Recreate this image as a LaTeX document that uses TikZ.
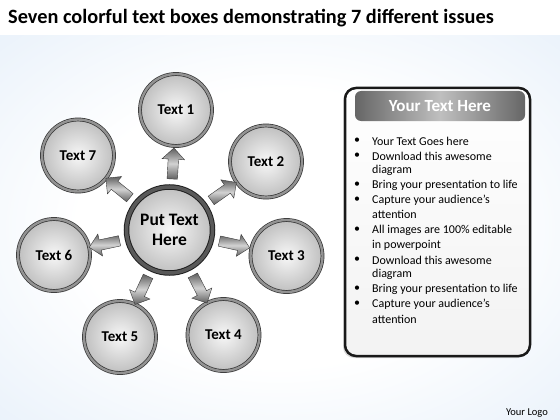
\documentclass[tikz,border=0pt]{standalone}
\usepackage{fontspec}
\setmainfont{Carlito}
\usetikzlibrary{calc,shapes.arrows,shadows}
\definecolor{bgblue}{RGB}{218,232,247}
\pgfdeclareradialshading{bgshade}{\pgfpoint{0bp}{0bp}}{color(0bp)=(white); color(18bp)=(white); color(50bp)=(bgblue); color(75bp)=(bgblue)}
\begin{document}
\begin{tikzpicture}[x=1pt,y=-1pt,
  bub/.style={circle, inner sep=0, minimum size=72pt, draw=gray!40!black, line width=0.7pt,
    double=gray!85, double distance=2.4pt, inner color=gray!6, outer color=gray!50,
    drop shadow={opacity=0.2, shadow xshift=1pt, shadow yshift=-2pt},
    font=\bfseries\fontsize{15}{17}\selectfont},
  hub/.style={bub, minimum size=86pt, double=gray!70!black, double distance=3.5pt, draw=gray!25!black, line width=1pt,
    font=\bfseries\fontsize{17.5}{20}\selectfont, align=center},
  arr/.style={single arrow, inner xsep=0pt, inner ysep=5pt, minimum height=31pt, minimum width=22pt,
    single arrow head extend=6pt, single arrow head indent=0pt, draw=gray!45!black, line width=0.4pt,
    top color=gray!75!black, bottom color=gray!75!black, middle color=gray!35},
  txt/.style={anchor=west, font=\fontsize{12}{14}\selectfont, inner sep=0pt},
  bul/.style={font=\fontsize{12}{14}\selectfont, inner sep=0pt}
]
\useasboundingbox (0,0) rectangle (560,420);
\fill[white] (0,0) rectangle (560,420);
\shade[shading=bgshade] (0,36) rectangle (560,420);

\node[anchor=west, font=\bfseries\fontsize{20.3}{24}\selectfont, inner sep=0pt] (title) at (8,18)
  {Seven colorful text boxes demonstrating 7 different issues};

\node[hub] (c) at (169.5,230) {Put Text\\Here};
\node[bub] (t1) at (176,110) {Text 1};
\node[bub] (t2) at (266,161.5) {Text 2};
\node[bub] (t3) at (286.5,256) {Text 3};
\node[bub] (t4) at (223.5,335) {Text 4};
\node[bub] (t5) at (120,337) {Text 5};
\node[bub] (t6) at (54,255) {Text 6};
\node[bub] (t7) at (78,155.5) {Text 7};

\foreach \i in {1,...,7}{
  \path let \p1=($(t\i)-(c)$), \n1={atan2(\y1,\x1)} in
    node[arr, rotate=\n1] (a\i) at ($(c)!64pt!(t\i)$) {};
}

\node[rounded corners=11pt, line width=2.5pt, draw=gray!20!black, top color=white, bottom color=gray!10,
  minimum width=185pt, minimum height=268pt,
  drop shadow={opacity=0.3, shadow xshift=-2pt, shadow yshift=-2pt}] (p) at (437.5,222) {};
\node[rounded corners=6pt, minimum width=170pt, minimum height=30pt,
  left color=gray!80!black, right color=gray!80!black, middle color=gray!50,
  text=white, font=\bfseries\fontsize{17}{20}\selectfont] (h) at (440,106) {Your Text Here};

\foreach \y/\t [count=\i] in {141/Your Text Goes here, 156/Download this awesome, 170/diagram,
  185/Bring your presentation to life, 200/Capture your audience’s, 214/attention,
  230/All images are 100\% editable, 245/in powerpoint, 260/Download this awesome, 274/diagram,
  289/Bring your presentation to life, 304/Capture your audience’s, 319/attention}
  \node[txt] (l\i) at (372,\y) {\t};
\foreach \y [count=\i] in {141,156,185,200,230,260,289,304}
  \node[bul] (b\i) at (357,\y) {•};

\node[font=\fontsize{10.5}{12}\selectfont, inner sep=0pt] (logo) at (527,413) {Your Logo};
\end{tikzpicture}
\end{document}
